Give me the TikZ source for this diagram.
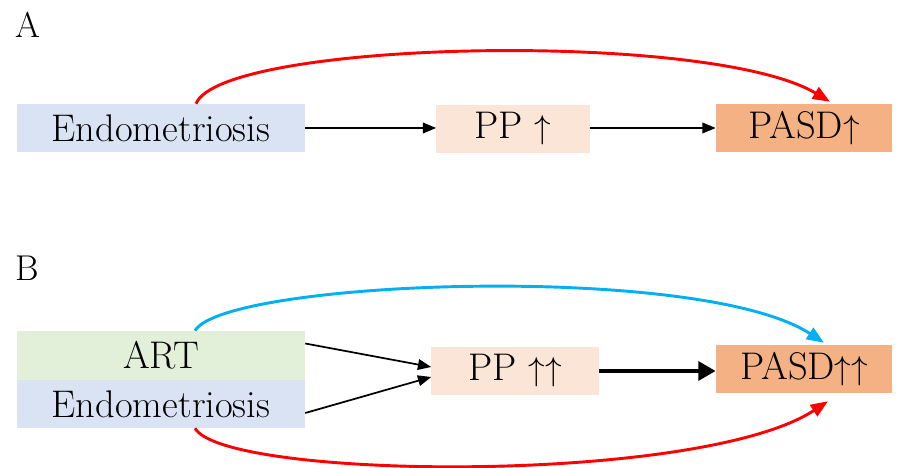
\documentclass[tikz,border=0pt]{standalone}
\usepackage{tikz}
\usetikzlibrary{arrows.meta, calc}
\definecolor{endoblue}{HTML}{DAE3F3}
\definecolor{artgreen}{HTML}{E2F0D9}
\definecolor{pppeach}{HTML}{FBE5D6}
\definecolor{pasdorange}{HTML}{F4B183}
\definecolor{artcyan}{HTML}{00B0F0}
\tikzset{
  box/.style={
    rectangle,
    minimum height=1.27cm,
    inner sep=0pt,
    align=center,
    font=\fontsize{29}{33}\selectfont
  },
  endo/.style={box, fill=endoblue, minimum width=7.62cm},
  art/.style={box, fill=artgreen, minimum width=7.62cm, minimum height=1.3cm},
  pp/.style={box, fill=pppeach, minimum width=4.05cm},
  pasd/.style={box, fill=pasdorange, minimum width=4.66cm},
  panel/.style={font=\fontsize{27}{31}\selectfont},
  arrow/.style={line width=1.3pt, -{Triangle[length=10pt,width=8pt]}},
  bigarrow/.style={line width=3.5pt, -{Triangle[length=13pt,width=14pt]}},
  effect/.style={line width=2.2pt, -{Triangle[length=13pt,width=10pt]}}
}
\begin{document}
\begin{tikzpicture}[x=0.02646cm, y=-0.02646cm]
  \useasboundingbox (0,0) rectangle (897,468);
  % panel A
  \node (labA) [panel] at (28,25) {A};
  \node (endoA) [endo] at (161,128) {Endometriosis};
  \node (ppA) [pp] at (513,129) {PP $\uparrow$};
  \node (pasdA) [pasd] at (804,128) {PASD$\uparrow$};
  \draw [arrow] (endoA.east) -- (endoA.east -| ppA.west);
  \draw [arrow] (ppA.east |- pasdA.west) -- (pasdA.west);
  \draw [effect, red] ($(endoA.north)+(35,0)$) .. controls (222,40) and (710,30) .. ($(pasdA.north)+(26,-2)$);
  % panel B
  \node (labB) [panel] at (27,268) {B};
  \node (artB) [art] at (161,355.5) {ART};
  \node (endoB) [endo] at (161,404) {Endometriosis};
  \node (ppB) [pp, minimum width=4.42cm] at (515,371) {PP $\uparrow\uparrow$};
  \node (pasdB) [pasd] at (804,369) {PASD$\uparrow\uparrow$};
  \draw [arrow] ($(artB.east)+(0,-12)$) -- ($(ppB.west)+(0,-4)$);
  \draw [arrow] ($(endoB.east)+(0,9)$) -- ($(ppB.west)+(0,6)$);
  \draw [bigarrow] (ppB.east) -- (ppB.east -| pasdB.west);
  \draw [effect, artcyan] ($(artB.north)+(34,0)$) .. controls (225,280) and (700,262) .. ($(pasdB.north)+(20,-2)$);
  \draw [effect, red] ($(endoB.south)+(34,0)$) .. controls (225,480) and (700,485) .. ($(pasdB.south)+(24,8)$);
\end{tikzpicture}
\end{document}
